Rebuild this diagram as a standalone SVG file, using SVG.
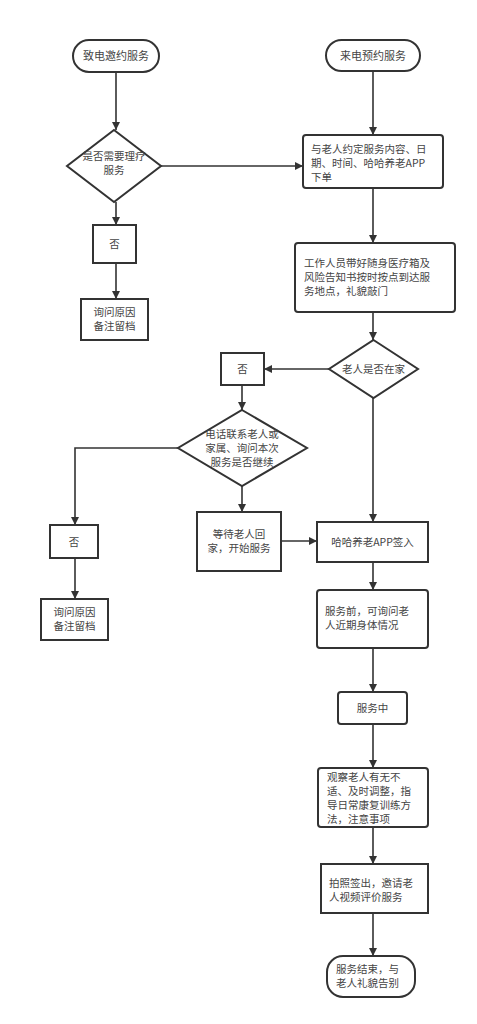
<svg xmlns="http://www.w3.org/2000/svg" width="477" height="1024" viewBox="0 0 477 1024">
<defs>
<marker id="arr" markerWidth="10" markerHeight="10" refX="9" refY="5" orient="auto" markerUnits="userSpaceOnUse">
<path d="M1,1 L9,5 L1,9 Z" fill="#333"/>
</marker>
<style>
.n{fill:#fff;stroke:#333;stroke-width:2}
.c{fill:none;stroke:#333;stroke-width:1.6;marker-end:url(#arr)}
text{font-family:"Noto Sans CJK SC","Liberation Sans",sans-serif;font-size:10.5px;fill:#444}
.m{text-anchor:middle}
</style>
</defs>
<rect width="477" height="1024" fill="#fff"/>
<g id="connectors">
<path class="c" d="M116,72 L116,130"/>
<path class="c" d="M373,71 L373,135"/>
<path class="c" d="M161,166 L303,166"/>
<path class="c" d="M116,202 L116,225"/>
<path class="c" d="M116,263 L116,299"/>
<path class="c" d="M373,188 L373,243"/>
<path class="c" d="M373,312 L373,340"/>
<path class="c" d="M329,369 L264,369"/>
<path class="c" d="M242,385 L242,410"/>
<path class="c" d="M178,448 L75,448 L75,525"/>
<path class="c" d="M75,558 L75,599"/>
<path class="c" d="M242,486 L242,512"/>
<path class="c" d="M281,541 L317,541"/>
<path class="c" d="M373,398 L373,522"/>
<path class="c" d="M373,562 L373,590"/>
<path class="c" d="M373,648 L373,692"/>
<path class="c" d="M373,724 L373,768"/>
<path class="c" d="M373,827 L373,864"/>
<path class="c" d="M373,913 L373,956"/>
</g>
<g id="n1"><rect class="n" x="73" y="40" width="86" height="32" rx="16"/><text class="m" x="116" y="60" style="font-size:11px">致电邀约服务</text></g>
<g id="n2"><rect class="n" x="326" y="40" width="94" height="31" rx="15.5"/><text class="m" x="373" y="60" style="font-size:11px">来电预约服务</text></g>
<g id="n3"><polygon class="n" points="114,130 161,166 114,202 67,166"/><text class="m" x="114" y="160">是否需要理疗</text><text class="m" x="114" y="174">服务</text></g>
<g id="n4"><rect class="n" x="303" y="135" width="140" height="53" rx="3"/><text x="311" y="153">与老人约定服务内容、日</text><text x="311" y="167">期、时间、哈哈养老APP</text><text x="311" y="181">下单</text></g>
<g id="n5"><rect class="n" x="93" y="225" width="43" height="38"/><text class="m" x="114.5" y="248">否</text></g>
<g id="n6"><rect class="n" x="81" y="299" width="67" height="41"/><text class="m" x="114.5" y="316">询问原因</text><text class="m" x="114.5" y="330">备注留档</text></g>
<g id="n7"><rect class="n" x="295" y="243" width="160" height="69" rx="3"/><text x="304" y="267">工作人员带好随身医疗箱及</text><text x="304" y="281">风险告知书按时按点到达服</text><text x="304" y="295">务地点，礼貌敲门</text></g>
<g id="n8"><polygon class="n" points="373.5,340 418,369 373.5,398 329,369"/><text class="m" x="373.5" y="373">老人是否在家</text></g>
<g id="n9"><rect class="n" x="221" y="353" width="43" height="32"/><text class="m" x="242.5" y="373">否</text></g>
<g id="n10"><polygon class="n" points="242,410 307,448 242,486 178,448"/><text class="m" x="242" y="438">电话联系老人或</text><text class="m" x="242" y="452">家属、询问本次</text><text class="m" x="242" y="466">服务是否继续</text></g>
<g id="n11"><rect class="n" x="50" y="525" width="48" height="33"/><text class="m" x="74" y="546">否</text></g>
<g id="n12"><rect class="n" x="41" y="599" width="67" height="41"/><text class="m" x="74.5" y="616">询问原因</text><text class="m" x="74.5" y="630">备注留档</text></g>
<g id="n13"><rect class="n" x="197" y="512" width="84" height="59"/><text class="m" x="239" y="538">等待老人回</text><text class="m" x="239" y="552">家，开始服务</text></g>
<g id="n14"><rect class="n" x="317" y="522" width="111" height="40"/><text class="m" x="372.5" y="546">哈哈养老APP签入</text></g>
<g id="n15"><rect class="n" x="317" y="590" width="111" height="58" rx="3"/><text x="325" y="615">服务前，可询问老</text><text x="325" y="629">人近期身体情况</text></g>
<g id="n16"><rect class="n" x="338" y="692" width="69" height="32" rx="3"/><text class="m" x="372.5" y="712">服务中</text></g>
<g id="n17"><rect class="n" x="318" y="768" width="110" height="59" rx="3"/><text x="327" y="781">观察老人有无不</text><text x="327" y="795">适、及时调整，指</text><text x="327" y="809">导日常康复训练方</text><text x="327" y="823">法，注意事项</text></g>
<g id="n18"><rect class="n" x="321" y="864" width="107" height="49"/><text x="329" y="887">拍照签出，邀请老</text><text x="329" y="901">人视频评价服务</text></g>
<g id="n19"><rect class="n" x="327" y="956" width="88" height="41" rx="16"/><text x="336" y="973">服务结束，与</text><text x="336" y="987">老人礼貌告别</text></g>
</svg>
